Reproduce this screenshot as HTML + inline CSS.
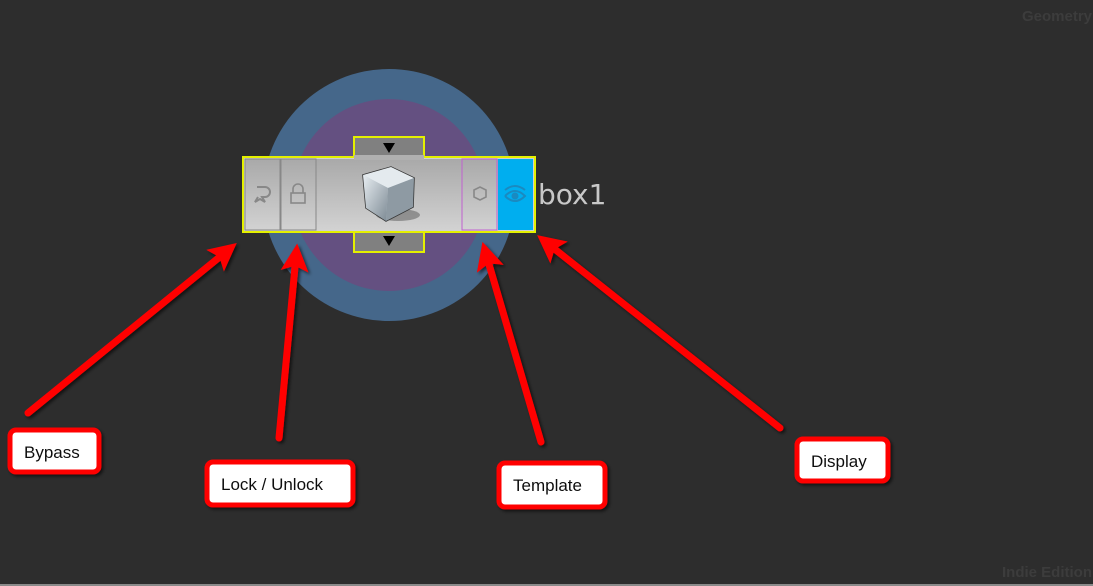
<!DOCTYPE html>
<html><head><style>
html,body{margin:0;padding:0;background:#2d2d2d;}
svg{display:block}
</style></head><body>
<svg width="1093" height="586" viewBox="0 0 1093 586" xmlns="http://www.w3.org/2000/svg">
<defs>
<linearGradient id="g" x1="0" y1="0" x2="0" y2="1"><stop offset="0" stop-color="#a9a9a9"/><stop offset="1" stop-color="#d2d2d2"/></linearGradient>
<linearGradient id="cube" x1="0" y1="0" x2="1" y2="1"><stop offset="0" stop-color="#e8eef2"/><stop offset="1" stop-color="#7d8a94"/></linearGradient>
<marker id="ah" markerWidth="4" markerHeight="4" refX="2.2" refY="2" orient="auto" markerUnits="strokeWidth"><path d="M0,0 L4,2 L0,4 L0.8,2 Z" fill="#ff0000"/></marker>
<filter id="sh"><feDropShadow dx="2" dy="2" stdDeviation="1.5" flood-color="#000" flood-opacity="0.6"/></filter>
</defs>
<rect width="1093" height="586" fill="#2d2d2d"/>
<rect x="0" y="584" width="1093" height="2" fill="#8a8a8a"/>
<text x="1092" y="21" text-anchor="end" font-family="Liberation Sans, sans-serif" font-weight="bold" font-size="15" fill="#3c3c3c">Geometry</text>
<text x="1092" y="577" text-anchor="end" font-family="Liberation Sans, sans-serif" font-weight="bold" font-size="15" fill="#3c3c3c">Indie Edition</text>
<circle cx="389" cy="195" r="126" fill="#45678a"/>
<circle cx="389" cy="195" r="96" fill="#645081"/>
<rect x="354" y="137" width="70" height="22" fill="#808080" stroke="#e4f000" stroke-width="2"/>
<rect x="354" y="230" width="70" height="22" fill="#808080" stroke="#e4f000" stroke-width="2"/>
<path d="M383,143 L395,143 L389,153 Z" fill="#000"/>
<path d="M383,236 L395,236 L389,246 Z" fill="#000"/>
<rect x="243" y="157" width="292" height="75" fill="#d0d0d0" stroke="#e4f000" stroke-width="2"/>
<rect x="245" y="159" width="288" height="71" fill="url(#g)"/>
<rect x="245" y="159" width="35" height="71" fill="url(#g)" stroke="#888" stroke-width="1"/>
<rect x="281" y="159" width="35" height="71" fill="url(#g)" stroke="#888" stroke-width="1"/>
<rect x="462" y="159" width="35" height="71" fill="url(#g)" stroke="#c060d0" stroke-width="1"/>
<rect x="498" y="159" width="35" height="71" fill="#00aeef"/>
<rect x="354" y="155" width="70" height="5" fill="#b0b0b0"/>
<path d="M257,187 h8 a5,5 0 0 1 0,10 h-3 l3,5 -5,-3 -5,3 3,-5" fill="none" stroke="#888" stroke-width="2"/>
<rect x="291" y="193" width="14" height="10" fill="none" stroke="#888" stroke-width="1.6"/>
<path d="M293,193 v-4 a5,5 0 0 1 10,0 v4" fill="none" stroke="#888" stroke-width="1.6"/>
<path d="M474,190 l6,-3 6,3 v7 l-6,3 -6,-3 z" fill="none" stroke="#888" stroke-width="1.6"/>
<path d="M505,196 q10,-10 20,0 q-10,10 -20,0" fill="none" stroke="#1a8ac0" stroke-width="2"/>
<circle cx="515" cy="196" r="3.5" fill="#1a8ac0"/>
<path d="M505,190 q10,-8 20,0" fill="none" stroke="#1a8ac0" stroke-width="2"/>
<ellipse cx="398" cy="215" rx="22" ry="6" fill="#555" opacity="0.5"/>
<path d="M363,175 L391,167 L414,178 L413,207 L386,221 L366,208 Z" fill="#b8c4cc" stroke="#333" stroke-width="1.5"/>
<path d="M363,175 L391,167 L414,178 L388,188 Z" fill="#e4eaee"/>
<path d="M388,188 L414,178 L413,207 L386,221 Z" fill="#8e9aa3"/>
<path d="M363,175 L388,188 L386,221 L366,208 Z" fill="url(#cube)"/>
<text x="538" y="204" font-family="DejaVu Sans, sans-serif" font-size="28" fill="#c8c8c8">box1</text>
<g stroke="#ff0000" stroke-width="7" stroke-linecap="round" fill="none" filter="url(#sh)" marker-end="url(#ah)">
<line x1="28" y1="413" x2="227" y2="251"/>
<line x1="279" y1="438" x2="296" y2="256"/>
<line x1="541" y1="442" x2="486" y2="254"/>
<line x1="780" y1="428" x2="547" y2="243"/>
</g>
<g filter="url(#sh)" font-family="Liberation Sans, sans-serif" font-size="17" fill="#111">
<rect x="10" y="430" width="89" height="42" rx="6" fill="#fff" stroke="#ff0000" stroke-width="5"/>
<text x="24" y="458">Bypass</text>
<rect x="207" y="462" width="146" height="43" rx="6" fill="#fff" stroke="#ff0000" stroke-width="5"/>
<text x="221" y="490">Lock / Unlock</text>
<rect x="499" y="463" width="106" height="44" rx="6" fill="#fff" stroke="#ff0000" stroke-width="5"/>
<text x="513" y="491">Template</text>
<rect x="797" y="439" width="91" height="42" rx="6" fill="#fff" stroke="#ff0000" stroke-width="5"/>
<text x="811" y="467">Display</text>
</g>
</svg>
</body></html>
